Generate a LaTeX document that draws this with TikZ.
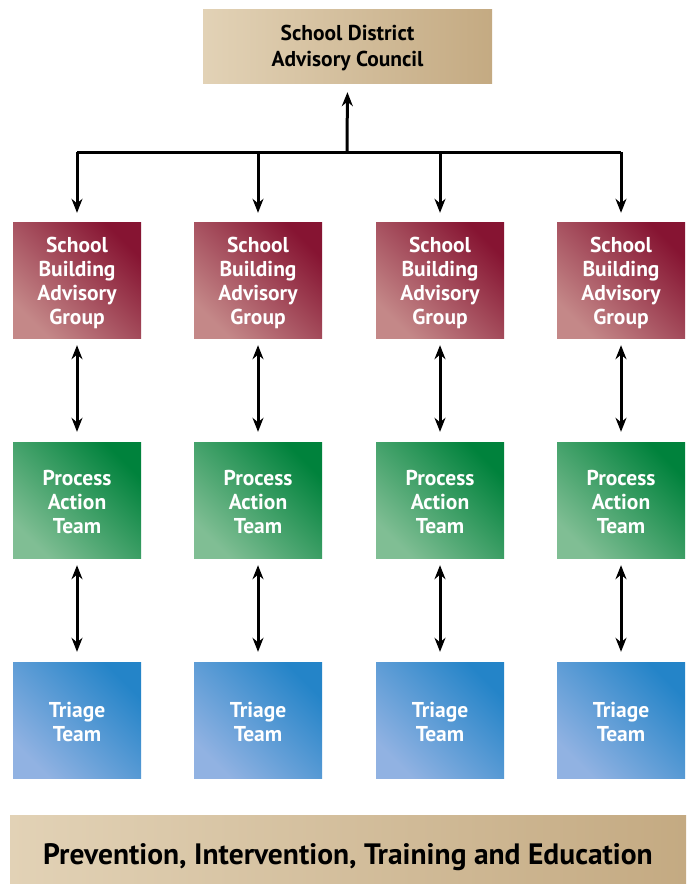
\documentclass[tikz,border=0pt]{standalone}
\usepackage{fontspec}
\setmainfont{PT Sans}
\usetikzlibrary{arrows.meta}
\definecolor{tanL}{RGB}{226,210,182}
\definecolor{tanD}{RGB}{196,170,130}
\definecolor{redL}{RGB}{196,136,136}
\definecolor{redD}{RGB}{134,20,50}
\definecolor{grnL}{RGB}{128,190,148}
\definecolor{grnD}{RGB}{0,130,60}
\definecolor{bluL}{RGB}{145,178,226}
\definecolor{bluD}{RGB}{36,132,200}
\tikzset{
  boxbase/.style={minimum width=128pt,minimum height=116pt,inner sep=0pt,align=center,
    font=\bfseries\fontsize{21.5}{24}\selectfont,text=white},
  redbox/.style={boxbase,bottom color=redL,top color=redD,shading angle=-45},
  greenbox/.style={boxbase,bottom color=grnL,top color=grnD,shading angle=-45},
  bluebox/.style={boxbase,bottom color=bluL,top color=bluD,shading angle=-45},
  tanbox/.style={inner sep=0pt,align=center,left color=tanL,right color=tanD,text=black},
  conn/.style={line width=3pt,draw=black},
  tip/.style={-{Stealth[length=14pt,width=11pt]}},
  dtip/.style={{Stealth[length=14pt,width=11pt]}-{Stealth[length=14pt,width=11pt]}}
}
\begin{document}
\begin{tikzpicture}[x=1pt,y=-1pt]
\useasboundingbox[fill=white] (0,0) rectangle (686,884);
\node[tanbox,minimum width=289pt,minimum height=74pt] (top) at (347.5,46) {};
\node[font=\bfseries\fontsize{21.5}{26}\selectfont,align=center,inner sep=0pt] (toptext) at (347.5,48.5) {School District\\Advisory Council};
\foreach \i/\x in {1/77,2/258,3/440,4/621}{
  \node[redbox] (r\i) at (\x,280) {};
  \node[boxbase] (rt\i) at (\x,283) {School\\Building\\Advisory\\Group};
  \node[greenbox] (g\i) at (\x,500) {};
  \node[boxbase] (gt\i) at (\x,502) {Process\\Action\\Team};
  \node[bluebox] (b\i) at (\x,720) {};
  \node[boxbase] (bt\i) at (\x,722) {Triage\\Team};
  \coordinate (j\i) at (\x,152);
}
\node[tanbox,minimum width=676pt,minimum height=69pt] (bar) at (348,849.5) {};
\node[font=\bfseries\fontsize{29.5}{32}\selectfont,inner sep=0pt] (bartext) at (348,857) {Prevention, Intervention, Training and Education};
\coordinate (jc) at (347,152);
\draw[conn] (j1) -- (j4);
\draw[conn,tip,shorten >=9pt] (jc) -- (top.south);
\foreach \i in {1,...,4}{
  \draw[conn,tip,shorten >=9pt] (j\i) -- (r\i.north);
  \draw[conn,dtip,shorten <=7pt,shorten >=10pt] (r\i.south) -- (g\i.north);
  \draw[conn,dtip,shorten <=7pt,shorten >=10pt] (g\i.south) -- (b\i.north);
}
\end{tikzpicture}
\end{document}
